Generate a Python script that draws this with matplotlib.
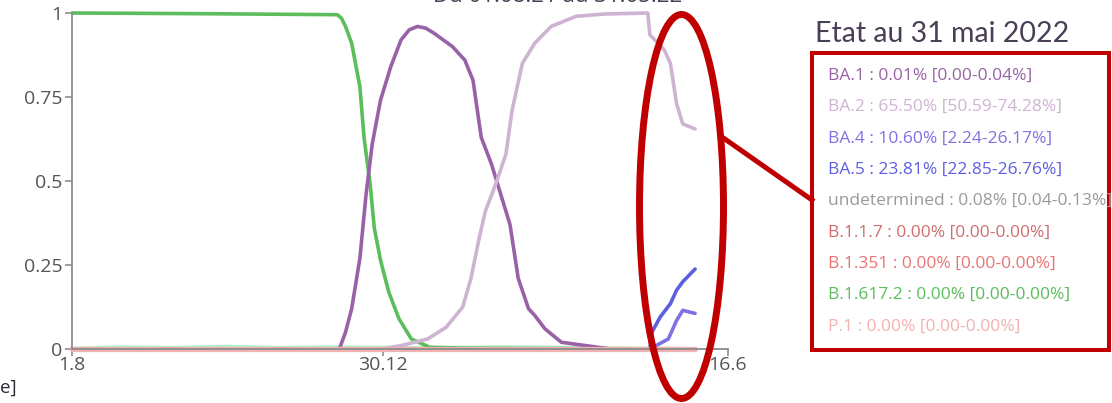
import matplotlib
matplotlib.use("Agg")
import matplotlib.pyplot as plt
import pandas as pd
from matplotlib.patches import Ellipse, Rectangle
from matplotlib.lines import Line2D

plt.rcParams['font.family'] = ['Open Sans', 'DejaVu Sans']

# values (share of sequences)
delta_dates = ["2021-08-01", "2021-10-02", "2021-12-08", "2021-12-10", "2021-12-12", "2021-12-15",
               "2021-12-19", "2021-12-21", "2021-12-24", "2021-12-26", "2021-12-29", "2022-01-02",
               "2022-01-07", "2022-01-13", "2022-01-22", "2022-02-10", "2022-05-31"]
delta_vals = [1.0, 0.998, 0.995, 0.985, 0.96, 0.91, 0.78, 0.63, 0.49, 0.36, 0.265, 0.17,
              0.09, 0.03, 0.005, 0.002, 0.0]

ba1_dates = ["2021-08-01", "2021-12-09", "2021-12-12", "2021-12-15", "2021-12-19", "2021-12-22",
             "2021-12-25", "2021-12-29", "2022-01-03", "2022-01-08", "2022-01-12", "2022-01-16",
             "2022-01-20", "2022-01-24", "2022-02-02", "2022-02-08", "2022-02-12", "2022-02-16",
             "2022-02-21", "2022-02-24", "2022-03-02", "2022-03-06", "2022-03-11", "2022-03-14",
             "2022-03-19", "2022-03-27", "2022-04-08", "2022-04-20", "2022-05-31"]
ba1_vals = [0.0, 0.0, 0.05, 0.12, 0.27, 0.46, 0.61, 0.74, 0.84, 0.92, 0.95, 0.96,
            0.955, 0.94, 0.90, 0.86, 0.80, 0.63, 0.55, 0.49, 0.37, 0.21, 0.12, 0.10,
            0.06, 0.02, 0.01, 0.0, 0.0001]

ba2_dates = ["2021-08-01", "2021-12-29", "2022-01-08", "2022-01-21", "2022-01-30", "2022-02-07",
             "2022-02-11", "2022-02-15", "2022-02-18", "2022-02-23", "2022-02-28", "2022-03-03",
             "2022-03-08", "2022-03-14", "2022-03-22", "2022-04-03", "2022-04-17", "2022-05-08",
             "2022-05-09", "2022-05-13", "2022-05-16", "2022-05-19", "2022-05-22", "2022-05-25",
             "2022-05-31"]
ba2_vals = [0.0, 0.0, 0.01, 0.03, 0.065, 0.125, 0.21, 0.33, 0.41, 0.49, 0.58, 0.71,
            0.85, 0.91, 0.96, 0.99, 0.997, 1.0, 0.935, 0.91, 0.89, 0.85, 0.73, 0.67,
            0.655]

ba4_dates = ["2021-08-01", "2022-05-10", "2022-05-12", "2022-05-18", "2022-05-22", "2022-05-25",
             "2022-05-31"]
ba4_vals = [0.0, 0.0, 0.01, 0.03, 0.085, 0.115, 0.106]

ba5_dates = ["2021-08-01", "2022-05-09", "2022-05-10", "2022-05-14", "2022-05-19", "2022-05-22",
             "2022-05-25", "2022-05-31"]
ba5_vals = [0.0, 0.0, 0.05, 0.095, 0.135, 0.175, 0.20, 0.238]

other_dates = ["2021-08-01", "2021-08-25", "2021-09-20", "2021-10-15", "2021-11-10", "2021-12-05",
               "2022-01-10", "2022-03-01", "2022-05-31"]
other_vals = [0.002, 0.006, 0.004, 0.008, 0.004, 0.006, 0.004, 0.006, 0.001]

flat_dates = ["2021-08-01", "2022-05-31"]
flat_vals = [0.0, 0.0]

tick_dates = ["2021-08-01", "2021-12-30", "2022-06-16"]
tick_labels = ["1.8", "30.12", "16.6"]
y_ticks = [0, 0.25, 0.5, 0.75, 1]
y_labels = ["0", "0.25", "0.5", "0.75", "1"]

legend_labels = ["BA.1 : 0.01% [0.00-0.04%]", "BA.2 : 65.50% [50.59-74.28%]",
                 "BA.4 : 10.60% [2.24-26.17%]", "BA.5 : 23.81% [22.85-26.76%]",
                 "undetermined : 0.08% [0.04-0.13%]", "B.1.1.7 : 0.00% [0.00-0.00%]",
                 "B.1.351 : 0.00% [0.00-0.00%]", "B.1.617.2 : 0.00% [0.00-0.00%]",
                 "P.1 : 0.00% [0.00-0.00%]"]
legend_colors = ["#9a62a6", "#cfb3d3", "#7f72e2", "#5d5fe0", "#9a9a9a", "#cf6d6d",
                 "#ec7373", "#5cbd5c", "#f2b2b2"]

fig = plt.figure(figsize=(11.12, 4.03), dpi=100)
ax = fig.add_axes([72/1112, 54/403, 656/1112, 336/403])

series = [
    (flat_dates, flat_vals, "#9a9a9a", 2.4),
    (flat_dates, flat_vals, "#cf6d6d", 2.4),
    (flat_dates, flat_vals, "#ec7373", 2.4),
    (other_dates, other_vals, "#b3ecc9", 2.4),
    (delta_dates, delta_vals, "#5cbd5c", 2.6),
    (ba1_dates, ba1_vals, "#9a62a6", 2.6),
    (ba2_dates, ba2_vals, "#cfb3d3", 2.6),
    (ba4_dates, ba4_vals, "#7f72e2", 2.6),
    (ba5_dates, ba5_vals, "#5d5fe0", 2.6),
    (flat_dates, flat_vals, "#f2b2b2", 3.8),
]
for d, v, c, lw in series:
    ax.plot(pd.to_datetime(d), v, color=c, lw=lw, clip_on=False,
            solid_joinstyle='round', solid_capstyle='round')

ax.set_xlim(pd.Timestamp("2021-08-01"), pd.Timestamp("2022-06-16"))
ax.set_ylim(0, 1)
ax.set_xticks(pd.to_datetime(tick_dates))
ax.set_xticklabels(tick_labels)
ax.set_yticks(y_ticks)
ax.set_yticklabels(y_labels)
for s in ["top", "right"]:
    ax.spines[s].set_visible(False)
for s in ["left", "bottom"]:
    ax.spines[s].set_color("#8c8c8c")
    ax.spines[s].set_linewidth(1.3)
ax.tick_params(colors="#8c8c8c", labelcolor="#555555", labelsize=14, length=5, width=1.2)
ax.tick_params(axis="x", pad=0)
ax.tick_params(axis="y", pad=2)

# cut title at the top and cut axis label bottom left
fig.text(558/1112, 1 - 2/403, "Du 01.08.21 au 31.05.22", ha="center", va="baseline",
         fontsize=16, color="#4a3f55")
fig.text(0, 1 - 388/403, "e]", ha="left", va="center", fontsize=13.5, color="#2b2b3b")

# annotation
fig.text(815/1112, 1 - 34/403, "Etat au 31 mai 2022", ha="left", va="center",
         fontsize=20.5, color="#4a3f55", family=["Lato", "DejaVu Sans"])
fig.add_artist(Rectangle((812/1112, 1 - 350/403), 297/1112, 297/403, transform=fig.transFigure,
                         fill=False, ec="#c00000", lw=2.9))
for i, (lab, col) in enumerate(zip(legend_labels, legend_colors)):
    fig.text(828/1112, 1 - (76 + i*31.3)/403, lab, ha="left", va="center",
             fontsize=12.5, color=col)

fig.add_artist(Ellipse((681.5/1112, 1 - 206.5/403), 84/1112, 384/403, transform=fig.transFigure,
                       fill=False, ec="#c00000", lw=5, zorder=10))
fig.add_artist(Line2D([722/1112, 812/1112], [1 - 137/403, 1 - 200/403], transform=fig.transFigure,
                      color="#c00000", lw=3.6, zorder=10))

fig.savefig("out.png", dpi=100)
